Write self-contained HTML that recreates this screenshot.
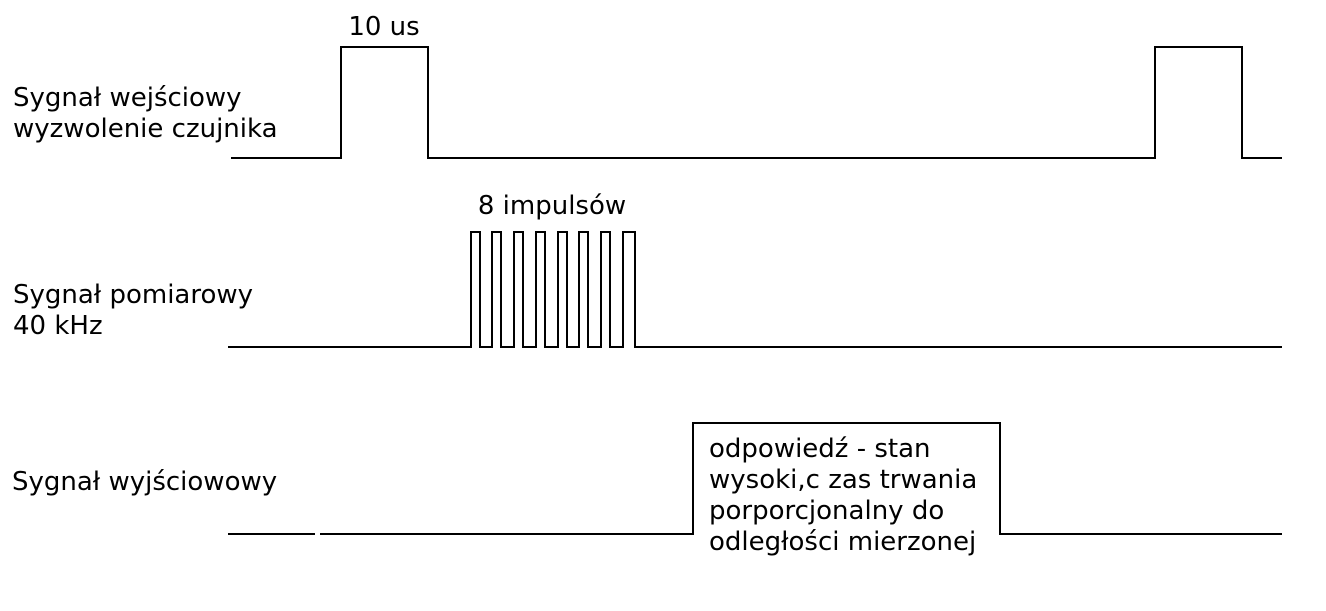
<!DOCTYPE html>
<html><head><meta charset="utf-8"><style>
html,body{margin:0;padding:0;background:#fff;}
svg{display:block;}
text{font-family:"DejaVu Sans","Liberation Sans",sans-serif;font-size:26px;fill:#000;}
</style></head><body>
<svg width="1326" height="611" viewBox="0 0 1326 611" xmlns="http://www.w3.org/2000/svg">
<g fill="none" stroke="#000" stroke-width="2">
<polyline points="231,158 341,158 341,47 428,47 428,158 1155,158 1155,47 1242,47 1242,158 1282,158"/>
<polyline points="228,347 471,347 471,232 480,232 480,347 492,347 492,232 501,232 501,347 514,347 514,232 523,232 523,347 536,347 536,232 545,232 545,347 558,347 558,232 567,232 567,347 579,347 579,232 588,232 588,347 601,347 601,232 610,232 610,347 623,347 623,232 635,232 635,347 1282,347"/>
<polyline points="228,534 315,534"/>
<polyline points="320,534 693,534 693,423 1000,423 1000,534 1282,534"/>
</g>
<text x="13" y="106">Sygnał wejściowy</text>
<text x="13" y="137">wyzwolenie czujnika</text>
<text x="13" y="303">Sygnał pomiarowy</text>
<text x="13" y="334">40 kHz</text>
<text x="12" y="490">Sygnał wyjściowowy</text>
<text x="384" y="35" text-anchor="middle">10 us</text>
<text x="552" y="214" text-anchor="middle">8 impulsów</text>
<text x="709" y="457">odpowiedź - stan</text>
<text x="709" y="488">wysoki,c zas trwania</text>
<text x="709" y="519">porporcjonalny do</text>
<text x="709" y="550">odległości mierzonej</text>
</svg>
</body></html>
